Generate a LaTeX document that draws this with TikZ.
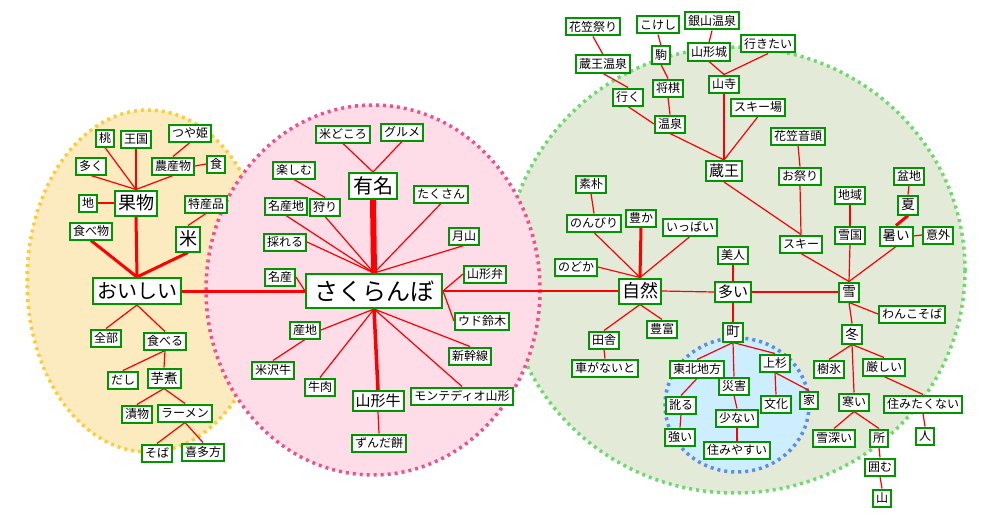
\documentclass[tikz,border=0pt]{standalone}
\usepackage{fontspec}
\setmainfont{Noto Sans CJK JP}
\pgfdeclarelayer{ell}
\pgfdeclarelayer{edges}
\pgfsetlayers{ell,edges,main}
\definecolor{boxgreen}{RGB}{0,150,0}
\definecolor{yfill}{RGB}{253,235,192}
\definecolor{ydot}{RGB}{255,204,51}
\definecolor{pfill}{RGB}{255,221,232}
\definecolor{pdot}{RGB}{240,80,140}
\definecolor{gfill}{RGB}{227,234,216}
\definecolor{gdot}{RGB}{110,218,110}
\definecolor{bfill}{RGB}{204,238,255}
\definecolor{bdot}{RGB}{90,140,238}
\tikzset{
  bx/.style={draw=boxgreen, line width=2pt, fill=white, inner xsep=3pt, inner ysep=0pt,
    minimum height=17pt, font=\fontsize{12}{12}\selectfont},
  bxm/.style={bx, minimum height=19pt, font=\fontsize{13.5}{13.5}\selectfont},
  bxl/.style={bx, inner xsep=3pt, minimum height=20pt, font=\fontsize{15}{15}\selectfont},
  bxxl/.style={bx, inner xsep=3pt, minimum height=25pt, font=\fontsize{18}{18}\selectfont},
  bxh/.style={bx, inner xsep=4pt, minimum height=26pt, font=\fontsize{20}{20}\selectfont},
  bxhuge/.style={bx, inner xsep=8pt, minimum height=34pt, font=\fontsize{24}{24}\selectfont},
  edge/.style={draw=red, line width=1.2pt},
  thk/.style={draw=red, line width=3pt},
  dotb/.style={line width=3.5pt, dash pattern=on 3pt off 4pt},
}
\begin{document}
\begin{tikzpicture}[x=1pt,y=-1pt]
\useasboundingbox (0,0) rectangle (1000,519);
\begin{pgfonlayer}{ell}
  \fill[yfill] (148,281) ellipse [x radius=121, y radius=171];
  \draw[ydot,dotb] (148,281) ellipse [x radius=121, y radius=171];
  \fill[gfill] (735,270) ellipse [x radius=230, y radius=223];
  \draw[gdot,dotb] (735,270) ellipse [x radius=230, y radius=223];
  \fill[pfill] (373,290) ellipse [x radius=167, y radius=185];
  \draw[pdot,dotb] (373,290) ellipse [x radius=167, y radius=185];
  \fill[bfill] (737,405) ellipse [x radius=72, y radius=67];
  \draw[bdot,dotb] (737,405) ellipse [x radius=72, y radius=67];
\end{pgfonlayer}
% left
\node[bx] (momo) at (105,138) {桃};
\node[bx] (oukoku) at (136,139) {王国};
\node[bx] (tsuyahime) at (190,133) {つや姫};
\node[bx] (ooku) at (91,166) {多く};
\node[bx] (nousanbutsu) at (173,166) {農産物};
\node[bx] (shoku) at (216,164) {食};
\node[bx] (chi) at (88,203) {地};
\node[bxxl] (kudamono) at (136,203) {果物};
\node[bx] (tokusan) at (206,204) {特産品};
\node[bx] (tabemono) at (91,231) {食べ物};
\node[bxxl] (kome) at (188,239) {米};
\node[bxh] (oishii) at (137,291) {おいしい};
\node[bx] (zenbu) at (106,338) {全部};
\node[bx] (taberu) at (165,341) {食べる};
\node[bx] (dashi) at (123,380) {だし};
\node[bxm] (imoni) at (164,378) {芋煮};
\node[bx] (tsukemono) at (137,414) {漬物};
\node[bx] (ramen) at (185,413) {ラーメン};
\node[bx] (soba) at (157,453) {そば};
\node[bx] (kitakata) at (203,452) {喜多方};
% pink
\node[bx] (komedokoro) at (343,134) {米どころ};
\node[bx] (gurume) at (402,132) {グルメ};
\node[bx] (tanoshimu) at (294,170) {楽しむ};
\node[bxh] (yuumei) at (373,186) {有名};
\node[bx] (takusan) at (441,194) {たくさん};
\node[bx] (meisanchi) at (286,206) {名産地};
\node[bx] (kari) at (325,207) {狩り};
\node[bx] (toreru) at (285,242) {採れる};
\node[bx] (gassan) at (464,236) {月山};
\node[bx] (meisan) at (280,277) {名産};
\node[bx] (yamagataben) at (485,274) {山形弁};
\node[bxhuge] (sakuranbo) at (374,291) {さくらんぼ};
\node[bx] (sanchi) at (305,330) {産地};
\node[bx] (udo) at (482,321) {ウド鈴木};
\node[bx] (yonezawagyu) at (273,370) {米沢牛};
\node[bx] (shinkansen) at (470,356) {新幹線};
\node[bx] (gyuniku) at (320,387) {牛肉};
\node[bxl] (yamagatagyu) at (378,401) {山形牛};
\node[bx] (montedio) at (462,396) {モンテディオ山形};
\node[bx] (zunda) at (379,443) {ずんだ餅};
% green
\node[bx] (hanagasamatsuri) at (593,27) {花笠祭り};
\node[bx] (kokeshi) at (658,25) {こけし};
\node[bx] (ginzan) at (712,21) {銀山温泉};
\node[bx] (yamagatajo) at (709,52) {山形城};
\node[bx] (ikitai) at (768,44) {行きたい};
\node[bx] (koma) at (661,55) {駒};
\node[bx] (zaoonsen) at (603,64) {蔵王温泉};
\node[bx] (shogi) at (668,88) {将棋};
\node[bx] (yamadera) at (724,84) {山寺};
\node[bx] (iku) at (628,97) {行く};
\node[bx] (skijo) at (758,107) {スキー場};
\node[bx] (onsen) at (670,124) {温泉};
\node[bx] (hanagasaondo) at (798,136) {花笠音頭};
\node[bxl] (zao) at (724,171) {蔵王};
\node[bx] (omatsuri) at (800,176) {お祭り};
\node[bx] (chiiki) at (850,195) {地域};
\node[bx] (bonchi) at (909,176) {盆地};
\node[bxm] (natsu) at (908,205) {夏};
\node[bx] (yukiguni) at (850,235) {雪国};
\node[bxm] (atsui) at (896,236) {暑い};
\node[bx] (igai) at (938,235) {意外};
\node[bx] (ski) at (801,244) {スキー};
\node[bxm] (yuki) at (849,292) {雪};
\node[bx] (wanko) at (912,314) {わんこそば};
\node[bx] (soboku) at (591,184) {素朴};
\node[bx] (nonbiri) at (594,223) {のんびり};
\node[bx] (yutaka) at (641,218) {豊か};
\node[bx] (ippai) at (690,227) {いっぱい};
\node[bx] (bijin) at (733,255) {美人};
\node[bx] (nodoka) at (576,267) {のどか};
\node[bxxl] (shizen) at (640,291) {自然};
\node[bxl] (ooi) at (733,292) {多い};
\node[bx] (hofu) at (662,329) {豊富};
\node[bx] (inaka) at (604,340) {田舎};
\node[bxm] (machi) at (733,332) {町};
\node[bx] (kuruma) at (605,368) {車がないと};
\node[bx] (tohoku) at (697,369) {東北地方};
\node[bx] (uesugi) at (775,363) {上杉};
\node[bx] (saigai) at (734,386) {災害};
\node[bx] (namaru) at (681,405) {訛る};
\node[bx] (bunka) at (776,404) {文化};
\node[bx] (ie) at (809,400) {家};
\node[bx] (sukunai) at (737,418) {少ない};
\node[bx] (tsuyoi) at (680,437) {強い};
\node[bx] (sumiyasui) at (737,450) {住みやすい};
\node[bxm] (fuyu) at (852,334) {冬};
\node[bx] (juhyo) at (829,369) {樹氷};
\node[bx] (kibishii) at (884,367) {厳しい};
\node[bx] (samui) at (854,402) {寒い};
\node[bx] (sumitakunai) at (923,404) {住みたくない};
\node[bx] (yukibukai) at (834,438) {雪深い};
\node[bx] (tokoro) at (879,438) {所};
\node[bx] (hito) at (925,436) {人};
\node[bx] (kakomu) at (880,467) {囲む};
\node[bx] (yama) at (882,498) {山};
\begin{pgfonlayer}{edges}
% left
\draw[edge] (momo.south) -- (kudamono.north);
\draw[edge] (oukoku.south) -- (kudamono.north);
\draw[edge] (ooku.south) -- (kudamono.north);
\draw[edge] (nousanbutsu.south) -- (kudamono.north);
\draw[edge] (tsuyahime.south) -- (nousanbutsu.north);
\draw[edge] (nousanbutsu.east) -- (shoku.west);
\draw[edge] (chi.east) -- (kudamono.west);
\draw[edge] (tokusan.south) -- (kome.north);
\draw[thk] (oishii.north) -- (kudamono.south);
\draw[thk] (oishii.north) -- (tabemono.south);
\draw[thk] (oishii.north) -- (kome.south);
\draw[thk] (oishii.east) -- (sakuranbo.west);
\draw[edge] (oishii.south) -- (zenbu.north);
\draw[edge] (oishii.south) -- (taberu.north);
\draw[edge] (taberu.south) -- (dashi.north);
\draw[edge] (taberu.south) -- (imoni.north);
\draw[edge] (imoni.south) -- (tsukemono.north);
\draw[edge] (imoni.south) -- (ramen.north);
\draw[edge] (ramen.south) -- (soba.north);
\draw[edge] (ramen.south) -- (kitakata.north);
% pink
\draw[draw=red, line width=6pt] (yuumei.south) -- (sakuranbo.north);
\draw[edge] (komedokoro.south) -- (yuumei.north);
\draw[edge] (gurume.south) -- (yuumei.north);
\draw[edge] (tanoshimu.south) -- (kari.north);
\draw[edge] (takusan.south) -- (sakuranbo.north);
\draw[edge] (meisanchi.south) -- (sakuranbo.north);
\draw[edge] (kari.south) -- (sakuranbo.north);
\draw[edge] (toreru.east) -- (sakuranbo.north);
\draw[edge] (gassan.south) -- (sakuranbo.north);
\draw[edge] (meisan.east) -- (sakuranbo.west);
\draw[edge] (yamagataben.west) -- (sakuranbo.east);
\draw[edge] (sakuranbo.east) -- (udo.west);
\draw[edge] (sakuranbo.south) -- (sanchi.east);
\draw[edge] (sanchi.south) -- (yonezawagyu.north);
\draw[edge] (sakuranbo.south) -- (gyuniku.north);
\draw[draw=red, line width=3.5pt] (sakuranbo.south) -- (yamagatagyu.north);
\draw[edge] (sakuranbo.south) -- (montedio.north);
\draw[edge] (sakuranbo.south) -- (shinkansen.north);
\draw[edge] (yamagatagyu.south) -- (zunda.north);
\draw[edge] (sakuranbo.east) -- (shizen.west);
% green
\draw[edge] (hanagasamatsuri.south) -- (zaoonsen.north);
\draw[edge] (zaoonsen.south) -- (iku.north);
\draw[edge] (kokeshi.south) -- (koma.north);
\draw[edge] (koma.south) -- (shogi.north);
\draw[edge] (shogi.south) -- (onsen.north);
\draw[edge] (iku.south) -- (onsen.west);
\draw[edge] (onsen.south) -- (zao.north);
\draw[edge] (ginzan.south) -- (yamagatajo.north);
\draw[edge] (yamagatajo.south) -- (yamadera.north);
\draw[edge] (ikitai.south) -- (yamadera.north);
\draw[edge] (yamadera.south) -- (zao.north);
\draw[edge] (skijo.south) -- (zao.north);
\draw[edge] (zao.south) -- (ski.north);
\draw[edge] (hanagasaondo.south) -- (omatsuri.north);
\draw[edge] (omatsuri.south) -- (ski.north);
\draw[edge] (ski.south) -- (yuki.north);
\draw[edge] (chiiki.south) -- (yukiguni.north);
\draw[edge] (yukiguni.south) -- (yuki.north);
\draw[edge] (bonchi.south) -- (natsu.north);
\draw[thk] (natsu.south) -- (atsui.north);
\draw[edge] (atsui.east) -- (igai.west);
\draw[edge] (atsui.south) -- (yuki.north);
\draw[edge] (ooi.east) -- (yuki.west);
\draw[edge] (yuki.south) -- (wanko.west);
\draw[edge] (yuki.south) -- (fuyu.north);
\draw[edge] (soboku.south) -- (nonbiri.north);
\draw[edge] (nonbiri.south) -- (shizen.north);
\draw[thk] (yutaka.south) -- (shizen.north);
\draw[edge] (ippai.south) -- (shizen.north);
\draw[edge] (nodoka.east) -- (shizen.north);
\draw[edge] (shizen.east) -- (ooi.west);
\draw[edge] (shizen.south) -- (inaka.north);
\draw[edge] (shizen.south) -- (hofu.north);
\draw[edge] (bijin.south) -- (ooi.north);
\draw[edge] (ooi.south) -- (machi.north);
\draw[edge] (inaka.south) -- (kuruma.north);
\draw[edge] (machi.south) -- (tohoku.north);
\draw[edge] (machi.south) -- (saigai.north);
\draw[edge] (machi.south) -- (uesugi.north);
\draw[edge] (tohoku.south) -- (namaru.north);
\draw[edge] (namaru.south) -- (tsuyoi.north);
\draw[edge] (saigai.south) -- (sukunai.north);
\draw[edge] (sukunai.south) -- (sumiyasui.north);
\draw[edge] (uesugi.south) -- (bunka.north);
\draw[edge] (uesugi.south) -- (ie.north);
\draw[edge] (fuyu.south) -- (juhyo.north);
\draw[edge] (fuyu.south) -- (kibishii.north);
\draw[edge] (fuyu.south) -- (samui.north);
\draw[edge] (kibishii.south) -- (sumitakunai.north);
\draw[edge] (sumitakunai.south) -- (hito.north);
\draw[edge] (samui.south) -- (yukibukai.north);
\draw[edge] (samui.south) -- (tokoro.north);
\draw[edge] (tokoro.south) -- (kakomu.north);
\draw[edge] (kakomu.south) -- (yama.north);
\end{pgfonlayer}
\end{tikzpicture}
\end{document}
